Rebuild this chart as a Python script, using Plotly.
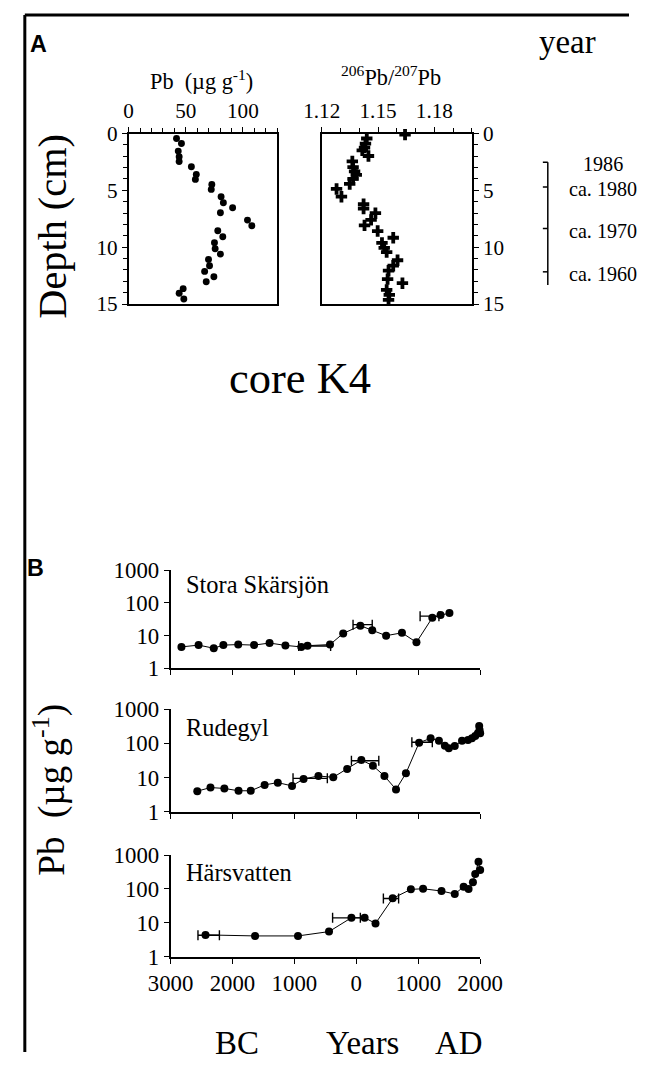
import plotly.graph_objects as go

# ---------------- Panel A data (core K4) ----------------
pb_conc = [41.9, 46.2, 43.4, 44.2, 44.2, 54.9, 59.2, 58.4, 72.8, 72.3, 80.9, 82.9, 91.0, 80.3,
           104.0, 107.8, 78.0, 82.4, 75.1, 75.7, 80.3, 69.9, 70.8, 66.5, 74.6, 67.9, 47.7, 44.2, 48.3]
pb_depth = [0.44, 0.88, 1.55, 2.05, 2.46, 2.93, 3.60, 4.04, 4.48, 4.92, 5.57, 6.09, 6.53, 6.97,
            7.62, 8.12, 8.56, 9.08, 9.61, 10.14, 10.61, 11.08, 11.63, 12.13, 12.60, 13.04, 13.65, 14.06, 14.56]

ratio = [1.1644, 1.1440, 1.1433, 1.1428, 1.1416, 1.1449, 1.1363, 1.1367, 1.1375, 1.1384, 1.1367,
         1.1349, 1.1279, 1.1305, 1.1423, 1.1423, 1.1486, 1.1463, 1.1428, 1.1498, 1.1581, 1.1521,
         1.1533, 1.1546, 1.1604, 1.1581, 1.1556, 1.1551, 1.1630, 1.1546, 1.1560, 1.1556]
ratio_depth = [0.1, 0.44, 0.89, 1.24, 1.48, 1.98, 2.46, 2.96, 3.34, 3.64, 3.99, 4.44, 4.88, 5.56,
               6.21, 6.60, 7.01, 7.60, 8.08, 8.58, 9.17, 9.62, 10.06, 10.44, 11.15, 11.63, 12.07,
               12.81, 13.17, 13.76, 14.20, 14.64]

year_labels = ["1986", "ca. 1980", "ca. 1970", "ca. 1960"]
year_depth = [2.52, 4.71, 8.36, 12.17]
year_scale_bottom = 13.33

# ---------------- Panel B data ----------------
lake_names = ["Stora Skärsjön", "Rudegyl", "Härsvatten"]

ss_year = [-2824, -2547, -2302, -2147, -1907, -1651, -1401, -1145, -889, -788, -425, -212, 65,
           257, 481, 737, 971, 1227, 1360, 1504]
ss_pb = [4.5, 5.1, 4.1, 5.1, 5.3, 5.1, 5.9, 5.0, 4.5, 4.9, 5.3, 11.6, 20, 14.4, 9.9, 12.1, 6.2,
         35, 42, 49]
ss_err_year = [-673, 102, 1182]
ss_err_half = [258, 155, 152]
ss_err_pb = [4.8, 21.5, 39]

ru_year = [-2568, -2355, -2131, -1902, -1705, -1481, -1268, -1038, -852, -612, -372, -148, 81,
           268, 454, 641, 801, 1014, 1200, 1334, 1430, 1494, 1590, 1707, 1803, 1867, 1920, 1963,
           1984, 1990, 2000]
ru_pb = [4.0, 5.1, 4.8, 4.1, 4.1, 6.1, 7.1, 5.7, 9.1, 11.1, 10.2, 17.8, 32.7, 22.3, 11.1, 4.5,
         13.3, 105, 141, 120, 86, 72, 84, 120, 126, 141, 165, 198, 324, 247, 198]
ru_err_year = [-745, 142, 1062]
ru_err_half = [277, 221, 165]
ru_err_pb = [9.5, 31, 108]

ha_year = [-2435, -1635, -942, -441, -79, 134, 310, 587, 881, 1078, 1376, 1590, 1733, 1813,
           1883, 1920, 1973, 2000]
ha_pb = [4.4, 4.1, 4.1, 5.5, 14.1, 14.1, 9.6, 52.6, 97, 101, 86.5, 70.6, 116, 99, 156, 275,
         634, 360]
ha_err_year = [-2384, -159, 560]
ha_err_half = [173, 224, 123]
ha_err_pb = [4.3, 14, 52]

year_ticks = [-3000, -2000, -1000, 0, 1000, 2000]
year_ticktext = ["3000", "2000", "1000", "0", "1000", "2000"]
pb_ticks = [1, 10, 100, 1000]
pb_ticktext = ["1", "10", "100", "1000"]

# ---------------- Layout helpers ----------------
W, H = 652, 1065
# where the page shows up in the photograph (measured): used to place things
IMG_L, IMG_W, IMG_T, IMG_H = 20.0, 612.0, 12.0, 1040.0
FS = 1.06  # font / marker compensation
SERIF = "Liberation Serif, Times New Roman, serif"
SANS = "Liberation Sans, Arial, sans-serif"


def tx(x):
    return (x - IMG_L) / IMG_W


def ty(y):
    return 1 - (y - IMG_T) / IMG_H


def fs(s):
    return round(s * FS, 1)


fig = go.Figure()

fig.add_trace(go.Scatter(x=pb_conc, y=pb_depth, mode="markers", xaxis="x", yaxis="y",
                         marker=dict(color="black", size=fs(6.5)), cliponaxis=False,
                         showlegend=False))
fig.add_trace(go.Scatter(x=ratio, y=ratio_depth, mode="markers", xaxis="x2", yaxis="y2",
                         marker=dict(color="black", size=fs(9), symbol="cross",
                                     line=dict(width=0)),
                         cliponaxis=False, showlegend=False))

lakes = [
    (ss_year, ss_pb, ss_err_year, ss_err_half, ss_err_pb, "x3", "y3"),
    (ru_year, ru_pb, ru_err_year, ru_err_half, ru_err_pb, "x4", "y4"),
    (ha_year, ha_pb, ha_err_year, ha_err_half, ha_err_pb, "x5", "y5"),
]
for yr, pb, ey, eh, ep, xa, ya in lakes:
    fig.add_trace(go.Scatter(x=yr, y=pb, mode="lines+markers", xaxis=xa, yaxis=ya,
                             line=dict(color="black", width=1),
                             marker=dict(color="black", size=fs(7.5)),
                             cliponaxis=False, showlegend=False))
    fig.add_trace(go.Scatter(x=ey, y=ep, mode="markers", xaxis=xa, yaxis=ya,
                             marker=dict(size=1, color="rgba(0,0,0,0)"),
                             error_x=dict(type="data", array=eh, symmetric=True,
                                          color="black", thickness=1.4, width=5),
                             cliponaxis=False, showlegend=False))

axis_common = dict(showline=True, linecolor="black", linewidth=1.6, showgrid=False,
                   zeroline=False, ticks="outside", ticklen=5, tickwidth=1.2,
                   tickcolor="black", tickfont=dict(family=SERIF, size=fs(20), color="black"))

yA_dom = [ty(304), ty(133.5)]
layout = dict(
    width=W, height=H, autosize=False,
    margin=dict(l=0, r=0, t=0, b=0),
    paper_bgcolor="white", plot_bgcolor="white",
    xaxis=dict(domain=[tx(126.7), tx(276.7)], anchor="y", side="top", range=[0, 130],
               tick0=0, dtick=50, mirror=True,
               minor=dict(dtick=10, ticks="outside", ticklen=4, tickcolor="black"),
               **axis_common),
    yaxis=dict(domain=yA_dom, anchor="x", range=[15, 0], tick0=0, dtick=5, mirror=True,
               minor=dict(dtick=1, ticks="outside", ticklen=4, tickcolor="black"),
               **axis_common),
    xaxis2=dict(domain=[tx(321.7), tx(473.3)], anchor="y2", side="top", range=[1.12, 1.20],
                tick0=1.12, dtick=0.03, tickformat=".2f", mirror=True,
                minor=dict(dtick=0.01, ticks="outside", ticklen=4, tickcolor="black"),
                **axis_common),
    yaxis2=dict(domain=yA_dom, anchor="x2", side="right", range=[15, 0], tick0=0, dtick=5,
                mirror=True,
                minor=dict(dtick=1, ticks="outside", ticklen=4, tickcolor="black"),
                **axis_common),
)

b_common = dict(axis_common)
b_common["tickfont"] = dict(family=SERIF, size=fs(21.5), color="black")
xB_dom = [tx(169), tx(481.7)]
b_domains = [[ty(668.3), ty(570)], [ty(811.7), ty(709.3)], [ty(956.7), ty(855)]]
for i, (xa, ya) in enumerate([("xaxis3", "yaxis3"), ("xaxis4", "yaxis4"), ("xaxis5", "yaxis5")]):
    xn, yn = xa.replace("axis", ""), ya.replace("axis", "")
    layout[xa] = dict(domain=xB_dom, anchor=yn, range=[-3000, 2000], tickvals=year_ticks,
                      ticktext=year_ticktext if i == 2 else [""] * len(year_ticks),
                      **b_common)
    layout[ya] = dict(domain=b_domains[i], anchor=xn, type="log", range=[0, 3],
                      tickvals=pb_ticks, ticktext=pb_ticktext, **b_common)

fig.update_layout(**layout)

ann = []


def add_text(text, x, y, size, family=SERIF, angle=0, xanchor="center", bold=False):
    if bold:
        text = "<b>" + text + "</b>"
    ann.append(dict(text=text, x=tx(x), y=ty(y), xref="paper", yref="paper", showarrow=False,
                    xanchor=xanchor, yanchor="middle", textangle=angle,
                    font=dict(family=family, size=fs(size), color="black")))


add_text("A", 36, 44, 22, family=SANS, bold=True)
add_text("B", 33, 568, 22, family=SANS, bold=True)
add_text("Pb  (µg g<sup>-1</sup>)", 200, 80, 21)
add_text("<sup>206</sup>Pb/<sup>207</sup>Pb", 392, 76, 21)
add_text("year", 570, 42, 31)
add_text("Depth (cm)", 50, 226, 38, angle=-90)
add_text("core K4", 300, 378, 42)
add_text(lake_names[0], 183, 584, 23, xanchor="left")
add_text(lake_names[1], 183, 727, 23, xanchor="left")
add_text(lake_names[2], 183, 872, 23, xanchor="left")
add_text("Pb  (µg g<sup>-1</sup>)", 47, 790, 35, angle=-90)
add_text("BC", 236, 1043, 31)
add_text("Years", 363, 1043, 31)
add_text("AD", 460, 1043, 31)

for lab, d in zip(year_labels, year_depth):
    ann.append(dict(text=lab, x=tx(606), y=d, xref="paper", yref="y", showarrow=False,
                    xanchor="center", yanchor="middle", yshift=-2,
                    font=dict(family=SERIF, size=fs(19), color="black")))

shapes = [
    # figure frame (left and top)
    dict(type="line", xref="paper", yref="paper", x0=0.003, x1=0.003, y0=0, y1=0.997,
         line=dict(color="black", width=3)),
    dict(type="line", xref="paper", yref="paper", x0=0.003, x1=1, y0=0.997, y1=0.997,
         line=dict(color="black", width=3)),
    # year scale vertical line
    dict(type="line", xref="paper", yref="y", x0=tx(550), x1=tx(550),
         y0=year_depth[0], y1=year_scale_bottom, line=dict(color="black", width=1.5)),
]
for d in year_depth:
    shapes.append(dict(type="line", xref="paper", yref="y", x0=tx(545), x1=tx(550),
                       y0=d, y1=d, line=dict(color="black", width=1.5)))

fig.update_layout(annotations=ann, shapes=shapes)
fig.write_html(
    "out.html",
    config={"displayModeBar": False},
    post_script="document.body.style.margin='0';document.body.style.padding='0';"
                "document.body.style.overflow='hidden';",
)
